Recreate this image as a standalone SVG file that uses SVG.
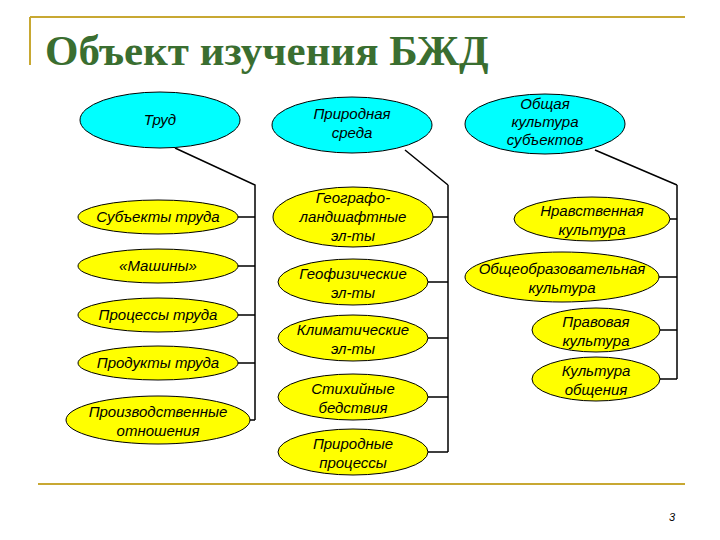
<svg xmlns="http://www.w3.org/2000/svg" width="720" height="540" viewBox="0 0 720 540">
<style>
.c{fill:#00ffff;stroke:#000;stroke-width:1}
.y{fill:#ffff00;stroke:#000;stroke-width:1}
text{font-family:"Liberation Sans",Arial,sans-serif;font-style:italic;font-size:15px;text-anchor:middle;fill:#000}
.l{stroke:#000;stroke-width:1.5;fill:none}
</style>
<rect width="720" height="540" fill="#fff"/>
<path d="M30 17H685M30 17V65M38 484H685" stroke="#c8a832" stroke-width="2" fill="none"/>
<text x="45" y="65" style="font-family:'Liberation Serif',serif;font-style:normal;font-weight:bold;font-size:43px;text-anchor:start;fill:#3a6e30">Объект изучения БЖД</text>
<g id="connectors">
<path class="l" d="M175 148L255 185V420M448 185V452M677 185V379M405 150L448 185M595 150L677 185"/>
<path class="l" d="M238 217H255M238 266H255M238 315H255M238 363H255M250 420H255M428 217H448M428 282H448M428 338H448M428 397H448M428 452H448M670 219H677M659 277H677M660 330H677M660 379H677"/>
</g>
<g id="n1"><ellipse class="c" cx="160" cy="120" rx="80" ry="28"/><text x="160" y="125">Труд</text></g>
<g id="n2"><ellipse class="c" cx="352" cy="125" rx="80" ry="28"/><text x="352" y="119">Природная</text><text x="352" y="138">среда</text></g>
<g id="n3"><ellipse class="c" cx="545" cy="124" rx="80" ry="30"/><text x="545" y="109">Общая</text><text x="545" y="127">культура</text><text x="545" y="145">субъектов</text></g>
<g id="a1"><ellipse class="y" cx="158" cy="217" rx="80" ry="17"/><text x="158" y="222">Субъекты труда</text></g>
<g id="a2"><ellipse class="y" cx="158" cy="266" rx="80" ry="17"/><text x="158" y="271">«Машины»</text></g>
<g id="a3"><ellipse class="y" cx="158" cy="315" rx="80" ry="17"/><text x="158" y="320">Процессы труда</text></g>
<g id="a4"><ellipse class="y" cx="158" cy="363" rx="80" ry="17"/><text x="158" y="368">Продукты труда</text></g>
<g id="a5"><ellipse class="y" cx="158" cy="420" rx="92" ry="24"/><text x="158" y="417">Производственные</text><text x="158" y="436">отношения</text></g>
<g id="b1"><ellipse class="y" cx="353" cy="217" rx="80" ry="30"/><text x="353" y="203">Географо-</text><text x="353" y="222">ландшафтные</text><text x="353" y="241">эл-ты</text></g>
<g id="b2"><ellipse class="y" cx="353" cy="282" rx="75" ry="23"/><text x="353" y="279">Геофизические</text><text x="353" y="298">эл-ты</text></g>
<g id="b3"><ellipse class="y" cx="353" cy="338" rx="75" ry="23"/><text x="353" y="335">Климатические</text><text x="353" y="354">эл-ты</text></g>
<g id="b4"><ellipse class="y" cx="353" cy="397" rx="75" ry="23"/><text x="353" y="394">Стихийные</text><text x="353" y="413">бедствия</text></g>
<g id="b5"><ellipse class="y" cx="353" cy="452" rx="75" ry="23"/><text x="353" y="449">Природные</text><text x="353" y="468">процессы</text></g>
<g id="c1"><ellipse class="y" cx="592" cy="219" rx="78" ry="22"/><text x="592" y="216">Нравственная</text><text x="592" y="235">культура</text></g>
<g id="c2"><ellipse class="y" cx="562" cy="277" rx="97" ry="25"/><text x="562" y="274">Общеобразовательная</text><text x="562" y="293">культура</text></g>
<g id="c3"><ellipse class="y" cx="596" cy="330" rx="64" ry="22"/><text x="596" y="327">Правовая</text><text x="596" y="346">культура</text></g>
<g id="c4"><ellipse class="y" cx="596" cy="379" rx="64" ry="22"/><text x="596" y="376">Культура</text><text x="596" y="395">общения</text></g>
<text x="672" y="521" style="font-size:11px">3</text>
</svg>
